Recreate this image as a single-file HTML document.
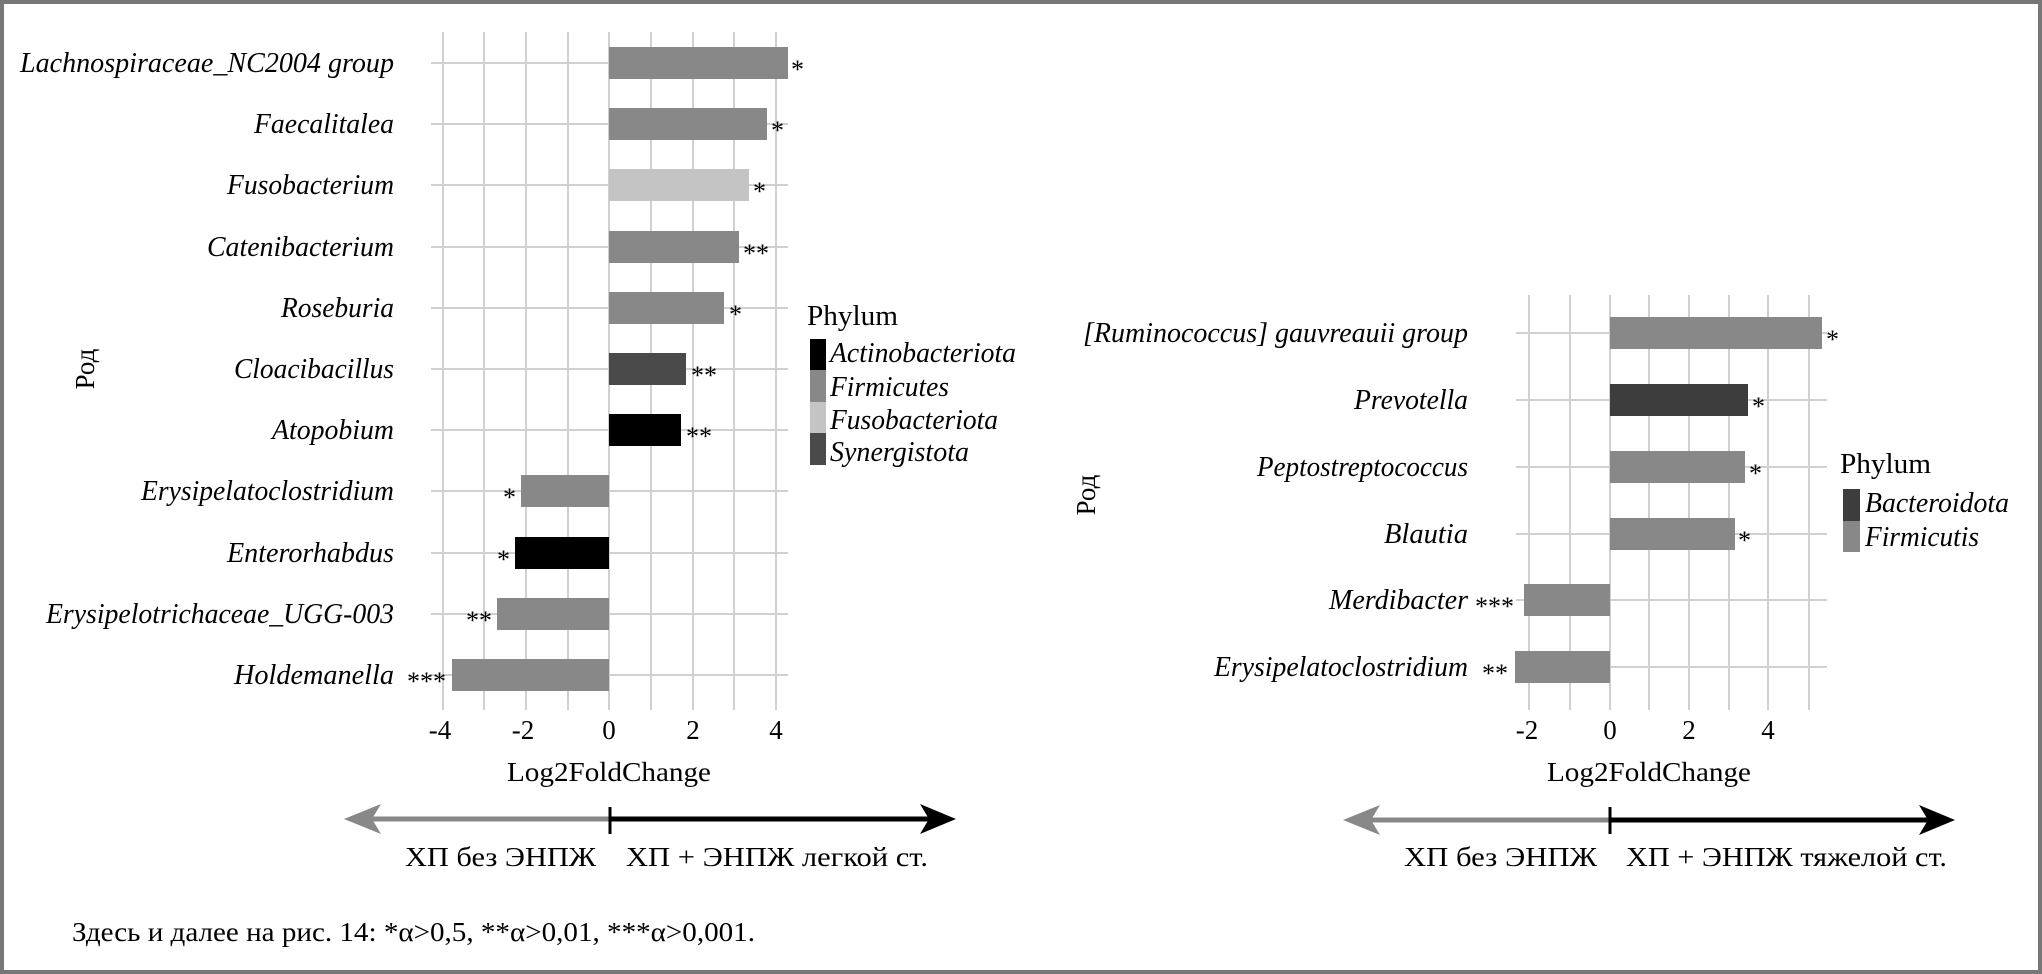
<!DOCTYPE html>
<html><head><meta charset="utf-8"><style>
html,body{margin:0;padding:0;background:#fff}
svg{display:block}
text{font-family:"Liberation Serif","Noto Serif CJK SC",serif;fill:#000}
.lab{font-style:italic;font-size:29px}
.st{font-size:26px}
.tk{font-size:27px}
</style></head><body>
<svg width="2042" height="974" viewBox="0 0 2042 974" xmlns="http://www.w3.org/2000/svg">
<rect x="2" y="2" width="2038" height="970" fill="#fff" stroke="#777" stroke-width="4"/>
<!-- LEFT CHART -->
<g stroke="#d0d0d0" stroke-width="2">
<line x1="443" y1="32" x2="443" y2="710"/><line x1="484" y1="32" x2="484" y2="710"/><line x1="526" y1="32" x2="526" y2="710"/><line x1="568" y1="32" x2="568" y2="710"/><line x1="609" y1="32" x2="609" y2="710"/><line x1="651" y1="32" x2="651" y2="710"/><line x1="693" y1="32" x2="693" y2="710"/><line x1="734" y1="32" x2="734" y2="710"/><line x1="776" y1="32" x2="776" y2="710"/>
<line x1="431" y1="63" x2="788" y2="63"/><line x1="431" y1="124" x2="788" y2="124"/><line x1="431" y1="185" x2="788" y2="185"/><line x1="431" y1="247" x2="788" y2="247"/><line x1="431" y1="308" x2="788" y2="308"/><line x1="431" y1="369" x2="788" y2="369"/><line x1="431" y1="430" x2="788" y2="430"/><line x1="431" y1="491" x2="788" y2="491"/><line x1="431" y1="553" x2="788" y2="553"/><line x1="431" y1="614" x2="788" y2="614"/><line x1="431" y1="675" x2="788" y2="675"/>
</g>
<rect x="609" y="47" width="179" height="32" fill="#888"/>
<rect x="609" y="108" width="158" height="32" fill="#888"/>
<rect x="609" y="169" width="140" height="32" fill="#c4c4c4"/>
<rect x="609" y="231" width="130" height="32" fill="#888"/>
<rect x="609" y="292" width="115" height="32" fill="#888"/>
<rect x="609" y="353" width="77" height="32" fill="#4a4a4a"/>
<rect x="609" y="414" width="72" height="32" fill="#000"/>
<rect x="521" y="475" width="88" height="32" fill="#888"/>
<rect x="515" y="537" width="94" height="32" fill="#000"/>
<rect x="497" y="598" width="112" height="32" fill="#888"/>
<rect x="452" y="659" width="157" height="32" fill="#888"/>
<g text-anchor="end">
<text class="lab" x="394" y="72" textLength="374" lengthAdjust="spacingAndGlyphs">Lachnospiraceae_NC2004 group</text>
<text class="lab" x="394" y="133" textLength="140" lengthAdjust="spacingAndGlyphs">Faecalitalea</text>
<text class="lab" x="394" y="194" textLength="167" lengthAdjust="spacingAndGlyphs">Fusobacterium</text>
<text class="lab" x="394" y="256" textLength="187" lengthAdjust="spacingAndGlyphs">Catenibacterium</text>
<text class="lab" x="394" y="317" textLength="113" lengthAdjust="spacingAndGlyphs">Roseburia</text>
<text class="lab" x="394" y="378" textLength="160" lengthAdjust="spacingAndGlyphs">Cloacibacillus</text>
<text class="lab" x="394" y="439" textLength="122" lengthAdjust="spacingAndGlyphs">Atopobium</text>
<text class="lab" x="394" y="500" textLength="253" lengthAdjust="spacingAndGlyphs">Erysipelatoclostridium</text>
<text class="lab" x="394" y="562" textLength="167" lengthAdjust="spacingAndGlyphs">Enterorhabdus</text>
<text class="lab" x="394" y="623" textLength="348" lengthAdjust="spacingAndGlyphs">Erysipelotrichaceae_UGG-003</text>
<text class="lab" x="394" y="684" textLength="160" lengthAdjust="spacingAndGlyphs">Holdemanella</text>
</g>
<text class="st" x="791" y="78">*</text>
<text class="st" x="771" y="139">*</text>
<text class="st" x="753" y="200">*</text>
<text class="st" x="743" y="262">**</text>
<text class="st" x="729" y="323">*</text>
<text class="st" x="691" y="384">**</text>
<text class="st" x="686" y="445">**</text>
<text class="st" x="516" y="506" text-anchor="end">*</text>
<text class="st" x="510" y="568" text-anchor="end">*</text>
<text class="st" x="492" y="629" text-anchor="end">**</text>
<text class="st" x="446" y="690" text-anchor="end">***</text>
<text class="tk" x="440" y="739" text-anchor="middle">-4</text><text class="tk" x="523" y="739" text-anchor="middle">-2</text><text class="tk" x="609" y="739" text-anchor="middle">0</text><text class="tk" x="693" y="739" text-anchor="middle">2</text><text class="tk" x="776" y="739" text-anchor="middle">4</text>
<text class="tk" x="609" y="781" text-anchor="middle" textLength="204" lengthAdjust="spacingAndGlyphs">Log2FoldChange</text>
<text class="tk" transform="translate(94,369) rotate(-90)" text-anchor="middle">Род</text>
<text x="807" y="325" style="font-size:28px" textLength="91" lengthAdjust="spacingAndGlyphs">Phylum</text>
<rect x="810" y="339" width="16" height="31" fill="#000"/>
<rect x="810" y="370" width="16" height="32" fill="#888"/>
<rect x="810" y="402" width="16" height="31" fill="#c4c4c4"/>
<rect x="810" y="433" width="16" height="32" fill="#4a4a4a"/>
<text class="lab" x="830" y="362" textLength="186" lengthAdjust="spacingAndGlyphs">Actinobacteriota</text>
<text class="lab" x="830" y="396" textLength="119" lengthAdjust="spacingAndGlyphs">Firmicutes</text>
<text class="lab" x="830" y="429" textLength="168" lengthAdjust="spacingAndGlyphs">Fusobacteriota</text>
<text class="lab" x="830" y="461" textLength="139" lengthAdjust="spacingAndGlyphs">Synergistota</text>
<line x1="365" y1="819" x2="609" y2="819" stroke="#888" stroke-width="5"/>
<polygon points="344,819 381,804 372,819 381,834" fill="#888"/>
<line x1="609" y1="819" x2="935" y2="819" stroke="#000" stroke-width="5"/>
<polygon points="956,819 920,804 929,819 920,834" fill="#000"/>
<line x1="610" y1="807" x2="610" y2="834" stroke="#000" stroke-width="3"/>
<text class="tk" x="405" y="866" textLength="191" lengthAdjust="spacingAndGlyphs">ХП без ЭНПЖ</text>
<text class="tk" x="626" y="866" textLength="302" lengthAdjust="spacingAndGlyphs">ХП + ЭНПЖ легкой ст.</text>
<text class="tk" x="72" y="941" textLength="683" lengthAdjust="spacingAndGlyphs">Здесь и далее на рис. 14: *α&gt;0,5, **α&gt;0,01, ***α&gt;0,001.</text>

<!-- RIGHT CHART -->
<g stroke="#d0d0d0" stroke-width="2">
<line x1="1529" y1="295" x2="1529" y2="710"/><line x1="1570" y1="295" x2="1570" y2="710"/><line x1="1610" y1="295" x2="1610" y2="710"/><line x1="1649" y1="295" x2="1649" y2="710"/><line x1="1689" y1="295" x2="1689" y2="710"/><line x1="1729" y1="295" x2="1729" y2="710"/><line x1="1768" y1="295" x2="1768" y2="710"/><line x1="1809" y1="295" x2="1809" y2="710"/>
<line x1="1516" y1="333" x2="1827" y2="333"/><line x1="1516" y1="400" x2="1827" y2="400"/><line x1="1516" y1="467" x2="1827" y2="467"/><line x1="1516" y1="534" x2="1827" y2="534"/><line x1="1516" y1="600" x2="1827" y2="600"/><line x1="1516" y1="667" x2="1827" y2="667"/>
</g>
<rect x="1610" y="317" width="212" height="32" fill="#888"/>
<rect x="1610" y="384" width="138" height="32" fill="#3d3d3d"/>
<rect x="1610" y="451" width="135" height="32" fill="#888"/>
<rect x="1610" y="518" width="125" height="32" fill="#888"/>
<rect x="1524" y="584" width="86" height="32" fill="#888"/>
<rect x="1515" y="651" width="95" height="32" fill="#888"/>
<text class="lab" x="1468" y="342" text-anchor="end" textLength="385" lengthAdjust="spacingAndGlyphs">[Ruminococcus] gauvreauii group</text>
<text class="lab" x="1468" y="409" text-anchor="end" textLength="114" lengthAdjust="spacingAndGlyphs">Prevotella</text>
<text class="lab" x="1468" y="476" text-anchor="end" textLength="211" lengthAdjust="spacingAndGlyphs">Peptostreptococcus</text>
<text class="lab" x="1468" y="543" text-anchor="end" textLength="84" lengthAdjust="spacingAndGlyphs">Blautia</text>
<text class="lab" x="1468" y="609" text-anchor="end" textLength="139" lengthAdjust="spacingAndGlyphs">Merdibacter</text>
<text class="lab" x="1468" y="676" text-anchor="end" textLength="254" lengthAdjust="spacingAndGlyphs">Erysipelatoclostridium</text>
<text class="st" x="1826" y="348">*</text>
<text class="st" x="1752" y="415">*</text>
<text class="st" x="1749" y="482">*</text>
<text class="st" x="1738" y="549">*</text>
<text class="st" x="1514" y="615" text-anchor="end">***</text>
<text class="st" x="1508" y="682" text-anchor="end">**</text>
<text class="tk" x="1527" y="739" text-anchor="middle">-2</text><text class="tk" x="1610" y="739" text-anchor="middle">0</text><text class="tk" x="1689" y="739" text-anchor="middle">2</text><text class="tk" x="1768" y="739" text-anchor="middle">4</text>
<text class="tk" x="1649" y="781" text-anchor="middle" textLength="204" lengthAdjust="spacingAndGlyphs">Log2FoldChange</text>
<text class="tk" transform="translate(1095,495) rotate(-90)" text-anchor="middle">Род</text>
<text x="1840" y="473" style="font-size:28px" textLength="91" lengthAdjust="spacingAndGlyphs">Phylum</text>
<rect x="1843" y="489" width="17" height="32" fill="#3d3d3d"/>
<rect x="1843" y="521" width="17" height="31" fill="#888"/>
<text class="lab" x="1865" y="512" textLength="144" lengthAdjust="spacingAndGlyphs">Bacteroidota</text>
<text class="lab" x="1865" y="546" textLength="114" lengthAdjust="spacingAndGlyphs">Firmicutis</text>
<line x1="1364" y1="820" x2="1610" y2="820" stroke="#888" stroke-width="5"/>
<polygon points="1343,820 1380,805 1371,820 1380,835" fill="#888"/>
<line x1="1610" y1="820" x2="1935" y2="820" stroke="#000" stroke-width="5"/>
<polygon points="1955,820 1919,805 1928,820 1919,835" fill="#000"/>
<line x1="1610" y1="807" x2="1610" y2="834" stroke="#000" stroke-width="3"/>
<text class="tk" x="1404" y="866" textLength="193" lengthAdjust="spacingAndGlyphs">ХП без ЭНПЖ</text>
<text class="tk" x="1626" y="866" textLength="321" lengthAdjust="spacingAndGlyphs">ХП + ЭНПЖ тяжелой ст.</text>
</svg>
</body></html>
